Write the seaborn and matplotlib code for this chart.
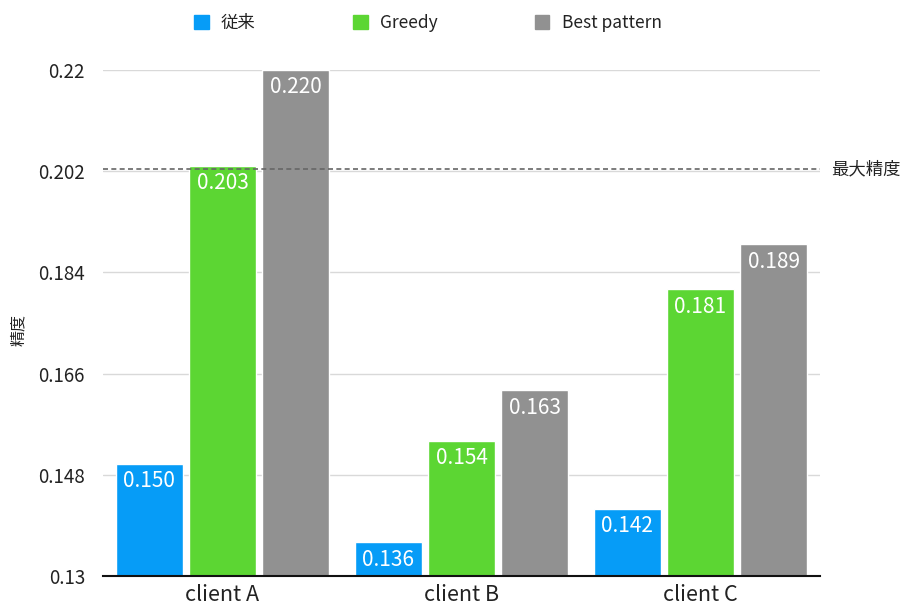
import matplotlib
matplotlib.use("Agg")
import matplotlib.pyplot as plt
import seaborn as sns
import pandas as pd

# Accuracy per client and method
clients = ["client A", "client B", "client C"]
methods = ["従来", "Greedy", "Best pattern"]
conventional = [0.150, 0.136, 0.142]
greedy = [0.203, 0.154, 0.181]
best_pattern = [0.220, 0.163, 0.189]
max_accuracy = 0.2024
yticks = [0.13, 0.148, 0.166, 0.184, 0.202, 0.22]
ytick_labels = ["0.13", "0.148", "0.166", "0.184", "0.202", "0.22"]
colors = ["#069CF7", "#5CD633", "#919191"]

sns.set_theme(style="white")
FONT = ["Noto Sans CJK JP", "DejaVu Sans"]
plt.rcParams["font.family"] = FONT
plt.rcParams["text.color"] = "#222222"

df = pd.DataFrame({
    "client": clients * 3,
    "method": [m for m in methods for _ in clients],
    "value": conventional + greedy + best_pattern,
})

fig = plt.figure(figsize=(9, 6.03), dpi=100)
ax = fig.add_axes([0.1144, 0.0448, 0.7967, 0.8391])

sns.barplot(data=df, x="client", y="value", hue="method", hue_order=methods,
            order=clients, palette=colors, width=0.92, gap=0.09,
            saturation=1, errorbar=None, ax=ax, zorder=2, legend=False)

ax.set_xlim(-0.5, 2.5)
ax.set_ylim(0.13, 0.22)
ax.set_yticks(yticks)
ax.set_yticklabels(ytick_labels, fontsize=13.5, color="#222222")
ax.tick_params(axis="y", length=0, pad=13)
ax.tick_params(axis="x", length=0, pad=6, labelsize=15.5, labelcolor="#222222")
ax.grid(axis="y", color="#d9d9d9", linewidth=1, zorder=0)
ax.set_axisbelow(True)
for side in ["left", "right", "top"]:
    ax.spines[side].set_visible(False)
ax.spines["bottom"].set_color("#111111")
ax.spines["bottom"].set_linewidth(1.5)
ax.spines["bottom"].set_zorder(5)
ax.set_xlabel("")
ax.set_ylabel("")
fig.text(18 / 900, 1 - 330 / 603, "精度", rotation=90, ha="center", va="center",
         fontsize=11.5, color="#222222")

# Value labels inside the top of each bar
for container, vals in zip(ax.containers, [conventional, greedy, best_pattern]):
    for patch, v in zip(container.patches, vals):
        ax.annotate(f"{v:.3f}", xy=(patch.get_x() + patch.get_width() / 2, v),
                    xytext=(0, -4.5), textcoords="offset points",
                    ha="center", va="top", fontsize=15, color="white",
                    zorder=4)

# Reference line for the maximum accuracy
ax.axhline(max_accuracy, color="#666666", linewidth=1.2,
           linestyle=(0, (3, 2)), zorder=3, clip_on=False)
ax.text(1.016, max_accuracy, "最大精度", transform=ax.get_yaxis_transform(),
        ha="left", va="center", fontsize=12.5, color="#222222")

# Legend across the top
handles = [plt.Rectangle((0, 0), 1, 1, color=c) for c in colors]
fig.legend(handles, methods, loc="center left", bbox_to_anchor=(194 / 900, 1 - 23 / 603),
           ncol=3, frameon=False, fontsize=12.5, handlelength=0.85, handleheight=0.85,
           handletextpad=0.7, columnspacing=5.6, borderpad=0, borderaxespad=0)

fig.savefig("out.png", dpi=100)
